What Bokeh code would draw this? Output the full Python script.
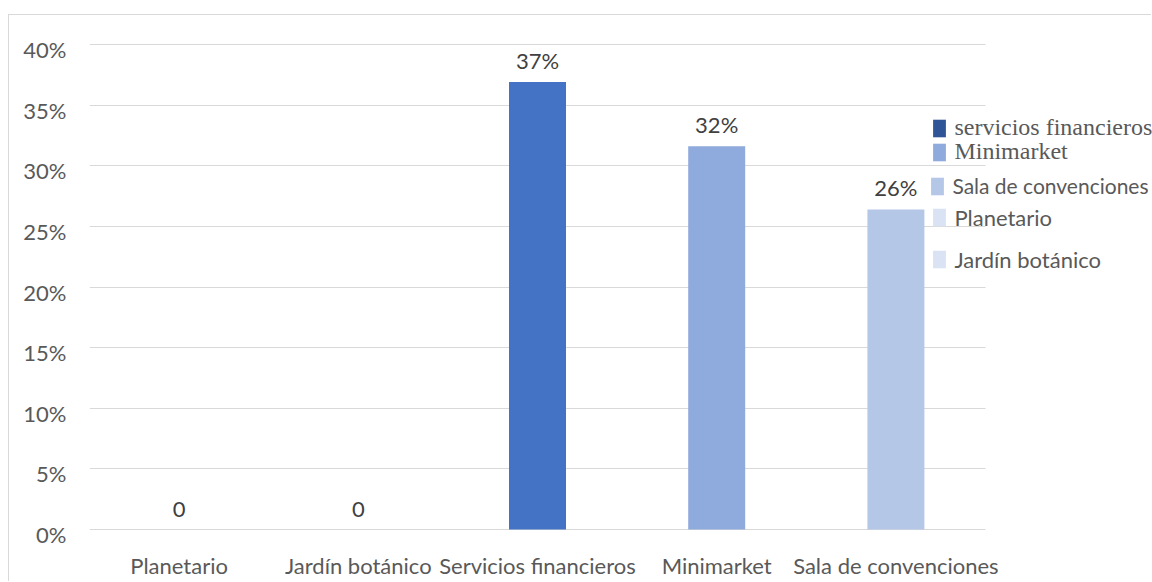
from bokeh.plotting import figure
from bokeh.models import (ColumnDataSource, Range1d, LinearAxis, FixedTicker,
                          NumeralTickFormatter, Grid, LabelSet, Legend, LegendItem)
from bokeh.core.properties import value
from bokeh.embed import file_html
from bokeh.resources import INLINE

# ---- data ----
categories = ["Planetario", "Jardín botánico", "Servicios financieros", "Minimarket", "Sala de convenciones"]
values = [0.0, 0.0, 0.369, 0.316, 0.264]
value_labels = ["0", "0", "37%", "32%", "26%"]
bar_colors = ["#DAE3F3", "#DAE3F3", "#4472C4", "#8FAADC", "#B4C7E7"]
legend_labels = ["servicios financieros", "Minimarket", "Sala de convenciones", "Planetario", "Jardín botánico"]
legend_colors = ["#2F5597", "#8FAADC", "#B4C7E7", "#DAE3F3", "#DAE3F3"]
y_ticks = [0.0, 0.05, 0.10, 0.15, 0.20, 0.25, 0.30, 0.35, 0.40]

SANS = "Lato"
SERIF = "Liberation Serif"
FS = "22px"

# ---- layout constants ----
W, H = 1143, 567
BL, BT, BB = 80, 21, 47
FRAME_W = W - BL
CAT_PX = 179.2
PX_PER_UNIT = 485 / 0.40
y0 = -6 / PX_PER_UNIT
y1 = 0.40 + 8 / PX_PER_UNIT
label_shift = 5 / PX_PER_UNIT

n = len(categories)
xpos = [i + 0.5 for i in range(n)]
src = ColumnDataSource(dict(x=xpos, val=values, lab=value_labels, color=bar_colors))

p = figure(width=W, height=H, x_range=Range1d(0, FRAME_W / CAT_PX),
           y_range=Range1d(y0, y1), output_backend="svg", toolbar_location=None,
           y_axis_location=None, min_border_left=BL, min_border_right=0,
           min_border_top=BT, min_border_bottom=BB)
p.margin = (14, 0, 0, 8)
p.styles = {"border-left": "1px solid #d9d9d9", "border-top": "1px solid #d9d9d9"}
p.outline_line_color = None
p.background_fill_color = "white"
p.border_fill_color = "white"

# grid (only across the category area)
p.xgrid.visible = False
for g in p.ygrid:
    g.visible = False
p.add_layout(Grid(dimension=1, ticker=FixedTicker(ticks=y_ticks), cross_bounds=(0, n),
                  grid_line_color="#d9d9d9", grid_line_width=1), "center")

p.vbar(x="x", top="val", width=0.318, fill_color="color", line_color=None, source=src)

p.add_layout(LabelSet(x="x", y="val", text="lab", source=src, y_offset=13,
                      text_align="center", text_baseline="alphabetic",
                      text_font=value(SANS), text_font_size=FS, text_color="#404040"))

# x axis (category names at category centres)
xa = p.xaxis[0]
xa.ticker = FixedTicker(ticks=xpos)
xa.major_label_overrides = {x: c for x, c in zip(xpos, categories)}
xa.axis_line_color = None
xa.major_tick_line_color = None
xa.minor_tick_line_color = None
xa.major_label_standoff = 10
xa.major_label_text_font = SANS
xa.major_label_text_font_size = FS
xa.major_label_text_color = "#595959"

# y axis (on a range shifted a few pixels, so labels sit just under their gridlines)
p.extra_y_ranges = {"lab": Range1d(y0 + label_shift, y1 + label_shift)}
ya = LinearAxis(y_range_name="lab", ticker=FixedTicker(ticks=y_ticks),
                formatter=NumeralTickFormatter(format="0%"))
ya.axis_line_color = None
ya.major_tick_line_color = None
ya.minor_tick_line_color = None
ya.major_label_standoff = 17
ya.major_label_text_font = SANS
ya.major_label_text_font_size = FS
ya.major_label_text_color = "#595959"
p.add_layout(ya, "left")

# legends (one per entry, as the entries are irregularly spaced and use two fonts)
ORX, ORY = 9, 15            # page offset of the canvas
GW, GH = 16, 22             # legend glyph box (area swatch is drawn 10% inset)
glyph_left = [933, 933, 931, 933, 933]         # page x of swatches
item_mid = [127, 151, 184, 216.5, 258.5]       # page y of item middles
fonts = [SERIF, SERIF, SANS, SANS, SANS]
sizes = ["24px", "24px", "21px", FS, FS]
item_h = 27
frame_bottom = H - BB
for lab, col, gx, ty, fnt, sz in zip(legend_labels, legend_colors, glyph_left, item_mid, fonts, sizes):
    r = p.vbar(x=[xpos[0]], top=[0.0], bottom=[0.0], width=0.01, fill_color=col, line_color=None)
    lx = gx - 0.1 * GW - ORX - BL
    top = ty - ORY - 13
    ly = frame_bottom - (top + item_h)
    lg = Legend(items=[LegendItem(label=lab, renderers=[r])], location=(lx, ly),
                glyph_width=GW, glyph_height=GH, label_standoff=7, padding=0, margin=0,
                spacing=0, background_fill_alpha=0, border_line_alpha=0,
                label_text_font=fnt, label_text_font_size=sz, label_text_color="#595959")
    p.add_layout(lg, "center")

open("out.html", "w").write(file_html(p, INLINE))
